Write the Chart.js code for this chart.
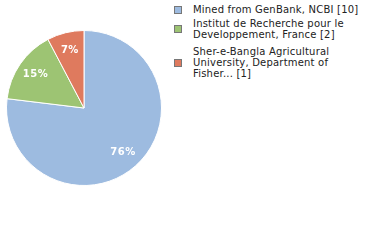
<!DOCTYPE html>
<html lang="en">
<head>
  <meta charset="UTF-8">
  <title>Sources</title>
  <script src="https://cdn.jsdelivr.net/npm/chart.js@4.4.0/dist/chart.umd.min.js"></script>
  <style>
    body { margin: 0; width: 380px; height: 240px; background: #fff; position: relative; font-family: 'DejaVu Sans', sans-serif; }
    #wrap { position: absolute; left: 0; top: 0; width: 168px; height: 216px; }
    #legend { position: absolute; left: 174px; top: 4px; font-size: 10px; letter-spacing: 0.2px; color: #222; line-height: 11px; }
    .item { position: relative; padding-left: 19px; }
    .box { position: absolute; left: 0; width: 6px; height: 6px; border: 1px solid #777; }
  </style>
</head>
<body>
<div id="wrap"><canvas id="myChart" width="168" height="216"></canvas></div>
<div id="legend"></div>

<script>
    const labels = ['Mined from GenBank, NCBI [10]',
      'Institut de Recherche pour le Developpement, France [2]',
      'Sher-e-Bangla Agricultural University, Department of Fisher... [1]'];
    const legendLines = [
      ['Mined from GenBank, NCBI [10]'],
      ['Institut de Recherche pour le', 'Developpement, France [2]'],
      ['Sher-e-Bangla Agricultural', 'University, Department of', 'Fisher... [1]']
    ];
    const counts = [10, 2, 1];
    const colors = ['#9dbbe0', '#9dc473', '#df7a5e'];
    const gaps = [3, 6, 0];

    // white percentage text inside each slice
    const slice_labels = {
      id: 'slice_labels',
      afterDatasetsDraw: (chart) => {
        const ctx = chart.ctx;
        const meta = chart.getDatasetMeta(0);
        const total = counts.reduce((a, b) => a + b, 0);
        ctx.save();
        ctx.fillStyle = '#fff';
        ctx.font = 'bold 10px "DejaVu Sans"';
        ctx.letterSpacing = '0.5px';
        ctx.textAlign = 'center';
        ctx.textBaseline = 'middle';
        meta.data.forEach((arc, i) => {
          const mid = (arc.startAngle + arc.endAngle) / 2;
          const r = arc.outerRadius * 0.76;
          const pct = Math.floor(counts[i] / total * 100) + '%';
          ctx.fillText(pct, arc.x + Math.cos(mid) * r, arc.y + Math.sin(mid) * r);
        });
        ctx.restore();
      }
    };

    var ctx = document.getElementById("myChart");
    var myChart = new Chart(ctx, {
        type: 'pie',
        data: {
          labels: labels,
          datasets: [{
            data: counts,
            backgroundColor: colors,
            borderColor: '#fff',
            borderWidth: 1
          }]
        },
        options: {
          responsive: false,
          animation: false,
          layout: { padding: 6 },
          plugins: {
            legend: { display: false },
            tooltip: { enabled: false }
          }
        },
        plugins: [slice_labels]
      });

    var legend = document.getElementById('legend');
    legendLines.forEach((lines, i) => {
      var item = document.createElement('div');
      item.className = 'item';
      item.style.marginBottom = gaps[i] + 'px';
      var box = document.createElement('span');
      box.className = 'box';
      box.style.background = colors[i];
      box.style.top = ((lines.length * 11) / 2 - 4) + 'px';
      item.appendChild(box);
      item.insertAdjacentHTML('beforeend', lines.join('<br>'));
      legend.appendChild(item);
    });
</script>
</body>
</html>
